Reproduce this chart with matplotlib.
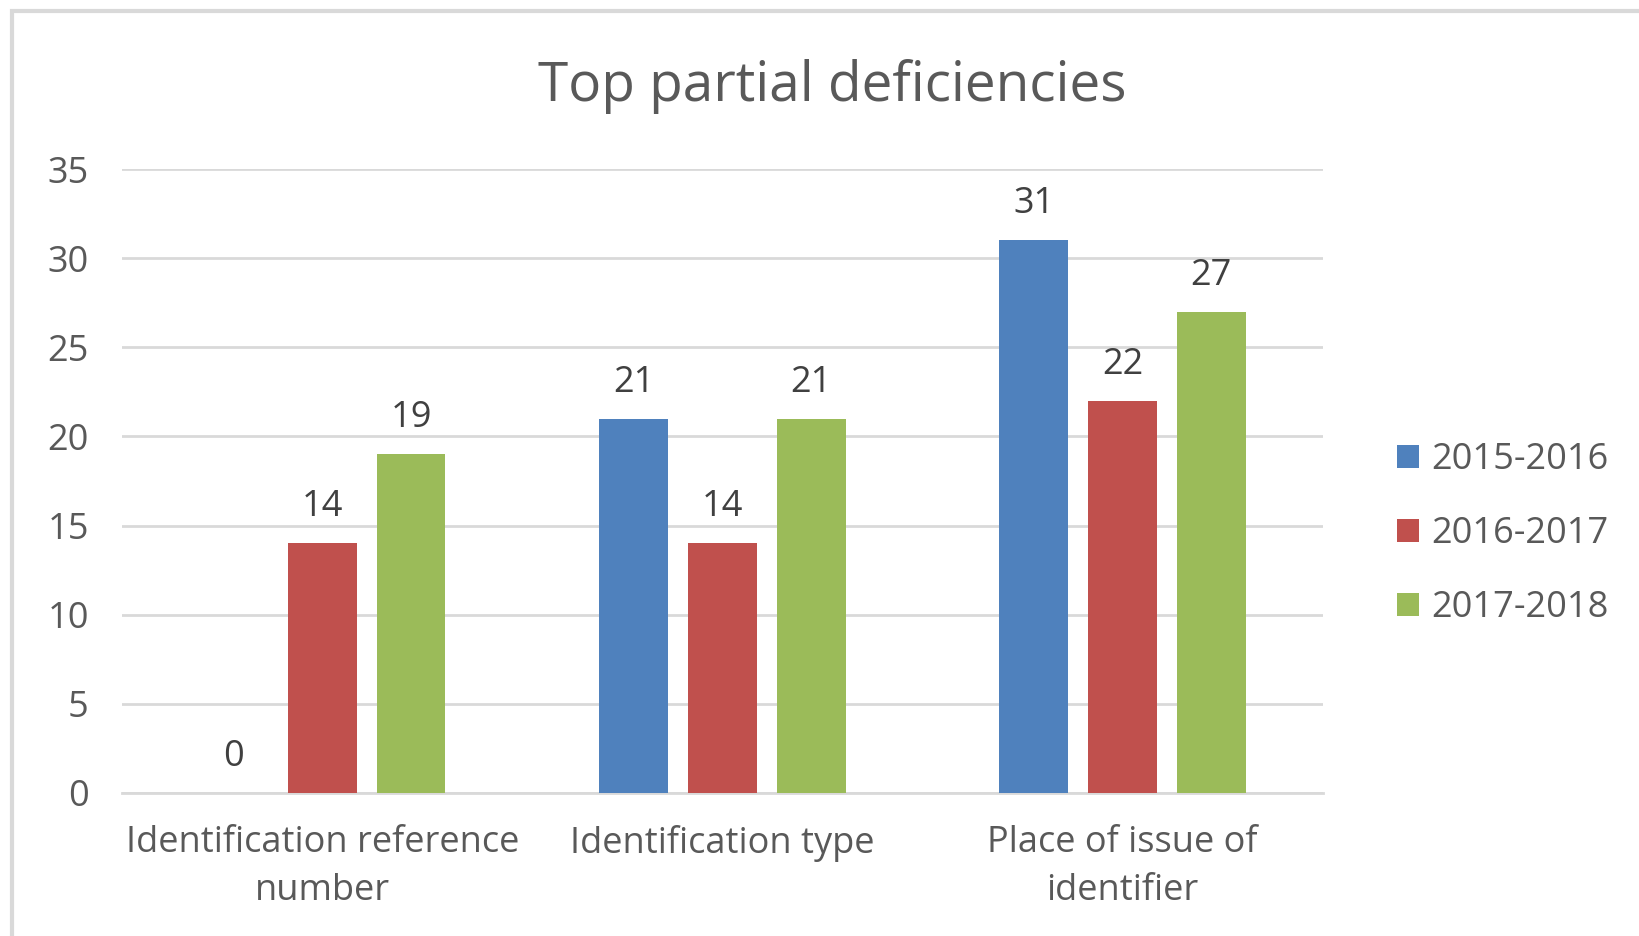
import matplotlib
matplotlib.use("Agg")
import matplotlib.pyplot as plt
import numpy as np
from matplotlib.patches import Rectangle

plt.rcParams["font.family"] = ["Open Sans", "DejaVu Sans"]

categories = ["Identification reference\nnumber", "Identification type", "Place of issue of\nidentifier"]
series = ["2015-2016", "2016-2017", "2017-2018"]
v_2015 = [0, 21, 31]
v_2016 = [14, 14, 22]
v_2017 = [19, 21, 27]
colors = ["#4F81BD", "#C0504D", "#9BBB59"]
text_color = "#595959"

fig = plt.figure(figsize=(16.39, 9.36), dpi=100)
ax = fig.add_axes([0.0745, 0.1528, 0.7325, 0.6666])

# light grey frame round the chart, cut by the right and bottom edges
fig.patches.append(Rectangle((12 / 1639, -0.1), 1.2, 1.1 - 11 / 936,
                             transform=fig.transFigure, fill=False,
                             edgecolor="#D9D9D9", linewidth=3))

index = np.arange(len(categories))
step = 0.222
width = 0.172
for i, (name, vals) in enumerate(zip(series, [v_2015, v_2016, v_2017])):
    bars = ax.bar(index + (i - 1) * step, vals, width, color=colors[i], label=name, zorder=3)
    for b, v in zip(bars, vals):
        ax.annotate(str(v), (b.get_x() + b.get_width() / 2, v),
                    xytext=(0, 13), textcoords="offset points",
                    ha="center", va="bottom", fontsize=26, color="#404040")

ax.set_xlim(-0.5, 2.5)
ax.set_ylim(0, 35)
ax.set_yticks(range(0, 36, 5))
ax.yaxis.grid(True, color="#D9D9D9", linewidth=2, zorder=0)
for s in ["top", "right", "left"]:
    ax.spines[s].set_visible(False)
ax.spines["bottom"].set_color("#D9D9D9")
ax.spines["bottom"].set_linewidth(2)
ax.set_xticks(index)
ax.set_xticklabels(categories, linespacing=1.45)
ax.tick_params(axis="both", length=0, labelsize=26, labelcolor=text_color)
ax.tick_params(axis="y", pad=24)
ax.tick_params(axis="x", pad=23)

fig.text(0.508, 0.908, "Top partial deficiencies", ha="center", va="center",
         fontsize=39.5, color=text_color)

leg = ax.legend(loc="center left", bbox_to_anchor=(1.035, 0.415), frameon=False,
                fontsize=26, handlelength=0.6, handleheight=0.6, labelspacing=1.06,
                handletextpad=0.35)
for t in leg.get_texts():
    t.set_color(text_color)

fig.savefig("out.png", dpi=100)
